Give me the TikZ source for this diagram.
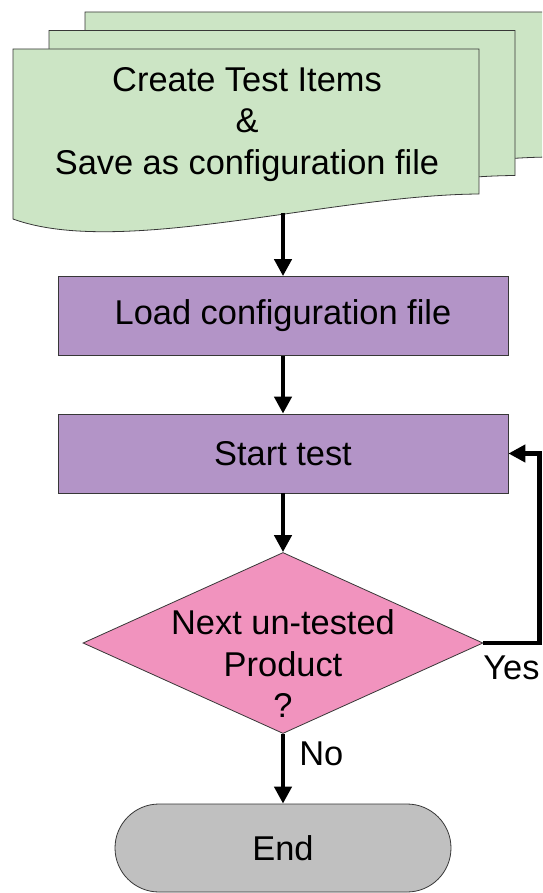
\documentclass[tikz,border=0pt]{standalone}
\usepackage{fontspec}
\setmainfont{Liberation Sans}
\usetikzlibrary{arrows.meta,shapes.geometric}

\begin{document}
\begin{tikzpicture}[x=1pt,y=-1pt,font=\fontsize{34.4}{41.5}\selectfont,
    caixa/.style={draw=contorno,line width=0.8pt,fill=roxo,minimum width=450pt,minimum height=79pt,inner sep=0pt},
    decisao/.style={shape=diamond,draw=contorno,line width=0.8pt,fill=rosa,minimum width=400pt,minimum height=181pt,inner sep=0pt},
    fimbox/.style={draw=contorno,line width=0.8pt,fill=cinza,rounded corners=44pt,minimum width=336pt,minimum height=88pt,inner sep=0pt},
    folha/.style={draw=contorno,line width=0.8pt,fill=verde},
    fluxo/.style={line width=4.5pt,-{Triangle[length=17pt,width=17pt]}},
    rot/.style={inner sep=0pt}]
  \definecolor{verde}{RGB}{204,229,197}
  \definecolor{roxo}{RGB}{179,148,199}
  \definecolor{rosa}{RGB}{241,147,190}
  \definecolor{cinza}{RGB}{192,192,192}
  \definecolor{contorno}{RGB}{55,55,55}
  \clip (0,0) rectangle (542,893);
  % pilha de documentos (de tras para a frente)
  \foreach \dx/\dy in {72/-37, 36/-18.5, 0/0} {
    \begin{scope}[shift={(\dx,\dy)}]
      \draw[folha] (13,219) -- (13,49) -- (479,49) -- (479,194)
        .. controls (330,195) and (120,258) .. (13,219) -- cycle;
    \end{scope}
  }
  \node[rot,align=center] (criar) at (247,124.5) {Create Test Items\\\&\\Save as configuration file};
  \coordinate (pe) at (283,213);
  % caixas do fluxo
  \node[caixa] (load) at (283,316) {Load configuration file};
  \node[caixa] (start) at (283,453.5) {Start test};
  \node[decisao,label={[rot,align=center,yshift=-21pt]center:Next un-tested\\Product\\?}] (prox) at (283,643) {};
  \node[fimbox] (fim) at (283,848) {End};
  % setas
  \draw[fluxo] (pe) -- (load);
  \draw[fluxo] (load) -- (start);
  \draw[fluxo] (start) -- (prox);
  \draw[fluxo] (prox) -- node[rot,pos=0.28,anchor=west,xshift=14pt] {No} (fim);
  \draw[fluxo] (prox.east) -- ++(56,0) node[rot,midway,below=11pt] {Yes} |- (start.east);
\end{tikzpicture}
\end{document}
